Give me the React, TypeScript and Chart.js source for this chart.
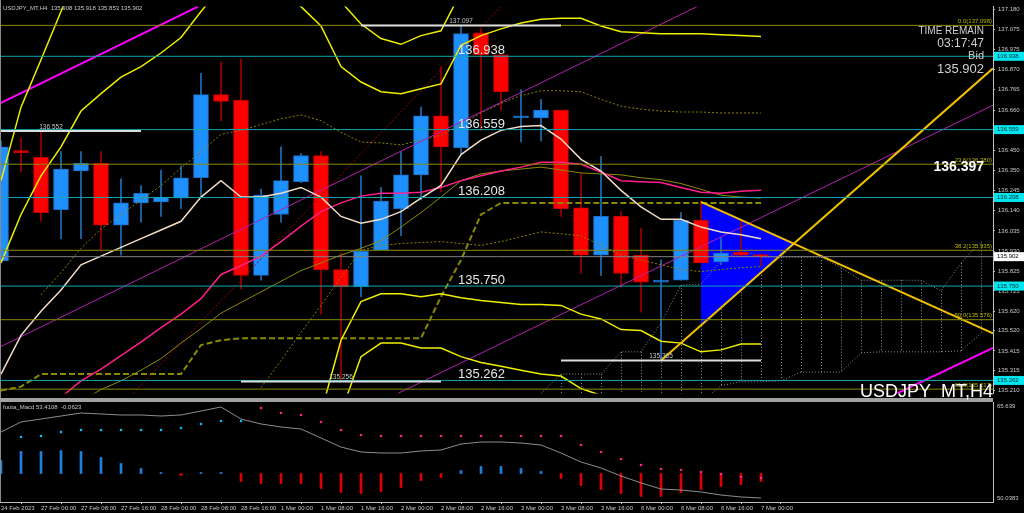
import React, { useEffect, useRef } from "react";
import { Chart, registerables } from "chart.js";
Chart.register(...registerables);

// ---------- candles (H4), index 0 = 24 Feb 2023 16:00 ----------
const opens = [135.880, 136.450, 136.415, 136.145, 136.345, 136.385, 136.065, 136.180, 136.185, 136.205, 136.310, 136.740, 136.710, 135.805, 136.120, 136.290, 136.425, 135.835, 135.745, 135.935, 136.150, 136.325, 136.630, 136.465, 137.060, 136.945, 136.620, 136.620, 136.660, 136.155, 135.910, 136.110, 135.910, 135.770, 135.780, 136.090, 135.875, 135.925, 135.908];
const highs = [136.500, 136.515, 136.550, 136.445, 136.445, 136.445, 136.305, 136.270, 136.350, 136.370, 136.850, 136.910, 136.925, 136.250, 136.470, 136.435, 136.445, 135.920, 136.320, 136.260, 136.445, 136.675, 136.885, 137.097, 137.080, 136.945, 136.765, 136.715, 136.660, 136.330, 136.420, 136.135, 136.050, 135.885, 136.130, 136.185, 136.000, 136.095, 135.918];
const lows = [135.870, 136.340, 136.085, 135.995, 135.995, 135.930, 135.910, 136.080, 136.110, 136.150, 136.210, 136.605, 135.735, 135.780, 136.080, 136.285, 135.605, 135.256, 135.695, 135.935, 136.010, 136.195, 136.235, 136.435, 136.555, 136.660, 136.495, 136.500, 136.110, 135.815, 135.805, 135.745, 135.615, 135.365, 135.780, 135.870, 135.860, 135.905, 135.853];
const closes = [136.470, 136.440, 136.130, 136.355, 136.385, 136.065, 136.180, 136.230, 136.210, 136.310, 136.740, 136.705, 135.805, 136.220, 136.295, 136.425, 135.835, 135.745, 135.930, 136.190, 136.325, 136.630, 136.470, 137.055, 136.945, 136.755, 136.625, 136.660, 136.150, 135.910, 136.110, 135.815, 135.770, 135.780, 136.090, 135.870, 135.920, 135.910, 135.902];

const timeLabels = ["24 Feb 2023", "27 Feb 00:00", "27 Feb 08:00", "27 Feb 16:00", "28 Feb 00:00", "28 Feb 08:00", "28 Feb 16:00", "1 Mar 00:00", "1 Mar 08:00", "1 Mar 16:00", "2 Mar 00:00", "2 Mar 08:00", "2 Mar 16:00", "3 Mar 00:00", "3 Mar 08:00", "3 Mar 16:00", "6 Mar 00:00", "6 Mar 08:00", "6 Mar 16:00", "7 Mar 00:00"];
const priceTicks = [137.180, 137.075, 136.975, 136.870, 136.765, 136.660, 136.555, 136.450, 136.350, 136.245, 136.140, 136.035, 135.930, 135.825, 135.725, 135.620, 135.520, 135.415, 135.315, 135.210];

// ---------- indicator lines (value per candle index, starting at *Start) ----------
const wheatMa = [135.295, 135.495, 135.620, 135.730, 135.860, 135.905, 135.950, 135.995, 136.040, 136.085, 136.210, 136.295, 136.210, 136.210, 136.230, 136.260, 136.210, 136.110, 136.075, 136.095, 136.135, 136.205, 136.270, 136.430, 136.505, 136.555, 136.575, 136.580, 136.510, 136.405, 136.345, 136.245, 136.160, 136.095, 136.095, 136.055, 136.030, 136.015, 135.995];
const pinkMaStart = 3;
const pinkMa = [135.175, 135.260, 135.320, 135.390, 135.460, 135.535, 135.605, 135.685, 135.810, 135.855, 135.905, 135.980, 136.060, 136.135, 136.180, 136.215, 136.230, 136.230, 136.235, 136.260, 136.295, 136.320, 136.345, 136.365, 136.390, 136.390, 136.380, 136.340, 136.295, 136.290, 136.285, 136.260, 136.235, 136.230, 136.240, 136.245];
const oliveMaStart = 4;
const oliveMa = [135.155, 135.215, 135.260, 135.315, 135.375, 135.455, 135.530, 135.610, 135.665, 135.720, 135.775, 135.830, 135.870, 135.910, 135.945, 135.985, 136.055, 136.130, 136.210, 136.295, 136.330, 136.345, 136.355, 136.365, 136.350, 136.335, 136.330, 136.325, 136.310, 136.300, 136.280, 136.250, 136.220, 136.210, 136.205];
const kijun = [135.210, 135.230, 135.295, 135.295, 135.295, 135.295, 135.295, 135.295, 135.295, 135.295, 135.445, 135.470, 135.480, 135.480, 135.480, 135.480, 135.480, 135.480, 135.480, 135.480, 135.480, 135.480, 135.695, 135.885, 136.120, 136.180, 136.180, 136.180, 136.180, 136.180, 136.180, 136.180, 136.180, 136.180, 136.180, 136.180, 136.180, 136.180, 136.180];
const envUpperStart = 2;
const envUpper = [135.705, 135.820, 135.945, 136.045, 136.120, 136.195, 136.270, 136.360, 136.445, 136.535, 136.555, 136.585, 136.615, 136.635, 136.605, 136.545, 136.495, 136.490, 136.480, 136.505, 136.530, 136.585, 136.645, 136.695, 136.735, 136.760, 136.760, 136.755, 136.715, 136.680, 136.665, 136.655, 136.650, 136.650, 136.645, 136.645, 136.645];
const envLowerStart = 13;
const envLower = [135.225, 135.365, 135.510, 135.650, 135.795, 135.935, 135.960, 135.970, 135.975, 135.980, 135.970, 135.960, 135.980, 136.005, 136.030, 136.020, 136.010, 135.960, 135.910, 135.885, 135.860, 135.835, 135.825, 135.835, 135.845, 135.850];
const bandA = [136.295, 136.675, 136.920, 137.170, 137.420];
const bandB = [135.870, 136.120, 136.320, 136.470, 136.655, 136.745, 136.830, 136.885, 136.955, 137.035, 137.170, 137.295];
const bandCStart = 14;
const bandC = [137.295, 137.195, 137.095, 136.885, 136.805, 136.755, 136.745, 136.770, 136.795, 136.995, 137.045, 137.080, 137.110, 137.130, 137.135, 137.135, 137.095, 137.065, 137.060, 137.055, 137.055, 137.055, 137.050, 137.045, 137.040];
const bandDStart = 16;
const bandD = [137.345, 137.220, 137.105, 137.030, 137.000, 137.045, 137.070, 137.270];
const bandEStart = 16;
const bandE = [135.095, 135.470, 135.670, 135.710, 135.710, 135.695, 135.710, 135.690, 135.675, 135.665, 135.655, 135.655, 135.650, 135.605, 135.580, 135.525, 135.520, 135.465, 135.455, 135.410, 135.420, 135.450, 135.450];
const bandFStart = 17;
const bandF = [135.095, 135.385, 135.455, 135.455, 135.430, 135.430, 135.385, 135.355, 135.335, 135.315, 135.295, 135.285, 135.220, 135.185];
const cloudStart = 27;
const cloudA = [135.195, 135.295, 135.295, 135.295, 135.410, 135.410, 135.560, 135.755, 135.760, 135.880, 135.935, 135.900, 135.900, 135.900, 135.900, 135.845, 135.780, 135.780, 135.780, 135.780, 135.725, 135.870, 135.980];
const cloudB = [135.150, 135.150, 135.150, 135.150, 135.150, 135.150, 135.150, 135.150, 135.150, 135.235, 135.255, 135.255, 135.260, 135.305, 135.305, 135.305, 135.405, 135.410, 135.410, 135.410, 135.410, 135.415, 135.505];

// ---------- trend lines / pattern anchors [index, price] ----------
const channelTop = [[-0.05, 136.695], [9.85, 137.195]];
const channelMidA = [[-0.05, 135.435], [34.8, 137.195]];
const channelMidB = [[19.85, 135.195], [49.6, 136.685]];
const channelLow = [[44.8, 135.195], [49.6, 135.430]];
const redDotted = [[6.6, 135.195], [25.0, 137.195]];
const triangleUp = [[33, 135.365], [49.6, 136.876]];
const triangleDown = [[35, 136.185], [49.6, 135.505]];
const triFillTop = [[35, 136.185], [39.64, 135.969]];
const triFillBottom = [[35, 135.547], [39.64, 135.969]];

// ---------- horizontal levels ----------
const srLevels = [136.938, 136.559, 136.208, 135.750, 135.262];
const fibRatios = ["0.0", "23.6", "38.2", "50.0", "61.8"];
const fibPrices = [137.098, 136.380, 135.935, 135.576, 135.217];
const bidPrice = 135.902;
const segPrices = [136.552, 137.097, 135.256, 135.365];
const segFrom = [-2, 18, 12, 28];
const segTo = [7, 28, 22, 38];

// ---------- MACD panel ----------
const macdHist = [0.101, 0.172, 0.172, 0.179, 0.172, 0.125, 0.078, 0.039, 0.008, -0.016, 0.008, 0.008, -0.062, -0.078, -0.078, -0.078, -0.117, -0.148, -0.156, -0.140, -0.109, -0.055, -0.031, 0.023, 0.055, 0.055, 0.039, 0.016, -0.039, -0.094, -0.125, -0.156, -0.179, -0.179, -0.148, -0.125, -0.101, -0.086, -0.062];
const macdSignalStart = 1;
const macdSignal = [0.285, 0.293, 0.324, 0.339, 0.339, 0.339, 0.339, 0.339, 0.355, 0.386, 0.410, 0.410, 0.511, 0.472, 0.456, 0.402, 0.339, 0.300, 0.293, 0.293, 0.293, 0.293, 0.293, 0.293, 0.293, 0.293, 0.293, 0.293, 0.222, 0.168, 0.113, 0.066, 0.035, 0.027, 0.012, -0.004, -0.027, -0.035];
const macdLine = [60.86, 62.46, 62.93, 63.41, 63.89, 63.73, 63.57, 63.57, 63.41, 63.57, 64.21, 64.84, 62.93, 62.14, 61.66, 61.34, 59.91, 58.47, 57.68, 57.52, 57.52, 57.84, 58.00, 58.95, 59.27, 59.27, 59.11, 58.79, 57.52, 56.09, 55.13, 53.86, 52.75, 51.79, 51.63, 51.31, 50.83, 50.52, 50.36];
const macdScale = [65.639, 50.0383];

const X_MIN = -0.05;
const X_MAX = 49.6;
const Y_MIN = 135.195;
const Y_MAX = 137.195;
const FONT = '"Liberation Sans", Arial, sans-serif';

const pts = (vals: number[], start = 0) => vals.map((v, i) => ({ x: start + i, y: v }));
const seg = (a: number[][]) => a.map(([x, y]) => ({ x, y }));
const hline = (v: number, a = X_MIN, b = X_MAX) => [{ x: a, y: v }, { x: b, y: v }];
const line = (data: any[], color: string, width: number, dash: number[] = [], order = 10) => ({
  type: "line",
  data,
  borderColor: color,
  borderWidth: width,
  borderDash: dash,
  pointRadius: 0,
  pointHoverRadius: 0,
  fill: false,
  tension: 0,
  order,
  xAxisID: "x",
  yAxisID: "y",
});

const isBull = (i: number) => closes[i] >= opens[i];

const mainOverlay = {
  id: "mainOverlay",
  beforeDatasetsDraw(chart: any) {
    const { ctx, chartArea: a, scales } = chart;
    const x = scales.x, y = scales.y;
    ctx.save();
    ctx.beginPath();
    ctx.rect(a.left, a.top, a.right - a.left, a.bottom - a.top);
    ctx.clip();
    ctx.strokeStyle = "#8c8c8c";
    ctx.lineWidth = 1;
    ctx.setLineDash([1, 2]);
    cloudA.forEach((va, i) => {
      if (i === 0) return;
      const px = Math.round(x.getPixelForValue(cloudStart + i)) + 0.5;
      ctx.beginPath();
      ctx.moveTo(px, y.getPixelForValue(va));
      ctx.lineTo(px, y.getPixelForValue(cloudB[i]));
      ctx.stroke();
    });
    ctx.restore();
  },
  afterDraw(chart: any) {
    const { ctx, chartArea: a, scales } = chart;
    const x = scales.x, y = scales.y;
    ctx.save();
    // left frame + panel separator
    ctx.fillStyle = "#8a8a8a";
    ctx.fillRect(0, 0, 1, 400);
    ctx.fillStyle = "#a0a0a0";
    ctx.fillRect(0, 398, a.right, 2);

    ctx.textBaseline = "middle";
    ctx.textAlign = "left";
    ctx.fillStyle = "#c8c8c8";
    ctx.font = `6px ${FONT}`;
    ctx.fillText("USDJPY_MT,H4  135.908 135.918 135.853 135.902", 3, 8);

    // S/R level texts
    ctx.font = `13px ${FONT}`;
    ctx.fillStyle = "#e6e6e6";
    ctx.textBaseline = "alphabetic";
    srLevels.forEach((v) => {
      ctx.fillText(v.toFixed(3), 458, y.getPixelForValue(v) - 2);
    });

    // short segment labels
    ctx.font = `6.5px ${FONT}`;
    ctx.fillStyle = "#c8c8c8";
    ctx.textAlign = "center";
    ctx.textBaseline = "bottom";
    segPrices.forEach((v, i) => {
      const cx = x.getPixelForValue((segFrom[i] + segTo[i]) / 2);
      ctx.fillText(v.toFixed(3), cx, y.getPixelForValue(v) - 1);
    });

    // fibo labels
    ctx.font = `6px ${FONT}`;
    ctx.fillStyle = "#b8b800";
    ctx.textAlign = "right";
    fibPrices.forEach((v, i) => {
      ctx.fillText(`${fibRatios[i]}(${v.toFixed(3)})`, a.right - 1, y.getPixelForValue(v) - 1);
    });

    // info block
    ctx.fillStyle = "#cfcfcf";
    ctx.textBaseline = "middle";
    ctx.font = `10px ${FONT}`;
    ctx.fillText("TIME REMAIN", 984, 31);
    ctx.font = `12px ${FONT}`;
    ctx.fillText("03:17:47", 984, 44);
    ctx.font = `11px ${FONT}`;
    ctx.fillText("Bid", 984, 56);
    ctx.font = `13px ${FONT}`;
    ctx.fillText(bidPrice.toFixed(3), 984, 69);
    ctx.fillStyle = "#ffffff";
    ctx.font = `bold 14px ${FONT}`;
    ctx.fillText("136.397", 984, 167);

    ctx.font = `18px ${FONT}`;
    ctx.textBaseline = "alphabetic";
    ctx.fillText("USDJPY_MT,H4", a.right, 397);

    // axis price boxes
    ctx.font = `6px ${FONT}`;
    ctx.textAlign = "left";
    ctx.textBaseline = "middle";
    srLevels.forEach((v) => {
      const py = y.getPixelForValue(v);
      ctx.fillStyle = "#00e6f0";
      ctx.fillRect(a.right + 1, py - 4.5, 30, 9);
      ctx.fillStyle = "#003030";
      ctx.fillText(v.toFixed(3), a.right + 4, py);
    });
    const by = y.getPixelForValue(bidPrice);
    ctx.fillStyle = "#ffffff";
    ctx.fillRect(a.right + 1, by - 4.5, 30, 9);
    ctx.fillStyle = "#000000";
    ctx.fillText(bidPrice.toFixed(3), a.right + 4, by);
    ctx.restore();
  },
};

const subOverlay = {
  id: "subOverlay",
  afterDraw(chart: any) {
    const { ctx, chartArea: a, scales } = chart;
    const y = scales.y;
    ctx.save();
    ctx.fillStyle = "#8a8a8a";
    ctx.fillRect(0, 0, 1, a.bottom);
    ctx.fillStyle = "#a0a0a0";
    ctx.fillRect(0, 0, a.right, 2);
    ctx.font = `6px ${FONT}`;
    ctx.fillStyle = "#c8c8c8";
    ctx.textBaseline = "middle";
    ctx.textAlign = "left";
    ctx.fillText("fuuta_Macd 53.4108  -0.0623", 3, 7);
    ctx.fillText(String(macdScale[0]), a.right + 4, y.getPixelForValue(macdScale[0]) + 4);
    ctx.fillText(String(macdScale[1]), a.right + 4, y.getPixelForValue(macdScale[1]) - 2);
    ctx.restore();
  },
};

function mainConfig(): any {
  const bodies = opens.map((o, i) => ({ x: i, y: [o, closes[i]] }));
  const wicks = lows.map((l, i) => ({ x: i, y: [l, highs[i]] }));
  const datasets: any[] = [
    { ...line(seg(triFillTop), "rgba(0,0,0,0)", 0, [], 300), fill: "+1", backgroundColor: "#0000ff" },
    { ...line(seg(triFillBottom), "rgba(0,0,0,0)", 0, [], 300) },
    line(pts(cloudA, cloudStart), "#8c8c8c", 1, [1, 2], 250),
    line(pts(cloudB, cloudStart), "#8c8c8c", 1, [1, 2], 250),
    {
      type: "bar",
      data: wicks,
      backgroundColor: wicks.map((_, i) => (isBull(i) ? "#1f70b8" : "#a00000")),
      barThickness: 1,
      grouped: false,
      order: 200,
      xAxisID: "x",
      yAxisID: "y",
    },
    {
      type: "bar",
      data: bodies,
      backgroundColor: bodies.map((_, i) => (isBull(i) ? "#1e90ff" : "#ff0000")),
      borderColor: bodies.map((_, i) => (isBull(i) ? "#1b6cc4" : "#c40000")),
      borderWidth: 1,
      borderSkipped: false,
      barThickness: 15,
      minBarLength: 2,
      grouped: false,
      order: 190,
      xAxisID: "x",
      yAxisID: "y",
    },
    line(pts(envUpper, envUpperStart), "#8a8000", 1, [2, 2], 20),
    line(pts(envLower, envLowerStart), "#8a8000", 1, [2, 2], 20),
    line(pts(kijun), "#8a8a00", 2, [6, 3], 20),
    line(pts(oliveMa, oliveMaStart), "#8a8a00", 1, [], 20),
    line(seg(redDotted), "#a00000", 1, [2, 2], 20),
    line(seg(channelMidA), "#b020b0", 1, [], 18),
    line(seg(channelMidB), "#b020b0", 1, [], 18),
    line(seg(channelTop), "#ff00ff", 2, [], 18),
    line(seg(channelLow), "#ff00ff", 2, [], 18),
    line(pts(bandA), "#eeee00", 1.5, [], 15),
    line(pts(bandB), "#eeee00", 1.5, [], 15),
    line(pts(bandC, bandCStart), "#eeee00", 1.5, [], 15),
    line(pts(bandD, bandDStart), "#eeee00", 1.5, [], 15),
    line(pts(bandE, bandEStart), "#eeee00", 1.5, [], 15),
    line(pts(bandF, bandFStart), "#eeee00", 1.5, [], 15),
    line(pts(pinkMa, pinkMaStart), "#ff1e8c", 1.5, [], 12),
    line(pts(wheatMa), "#f2dcc4", 1.5, [], 11),
    line(seg(triangleUp), "#f0c000", 2, [], 8),
    line(seg(triangleDown), "#f0c000", 2, [], 8),
  ];
  srLevels.forEach((v) => datasets.push(line(hline(v), "#12a6ad", 1, [], 6)));
  fibPrices.forEach((v) => datasets.push(line(hline(v), "#8a8a00", 1, [], 6)));
  datasets.push(line(hline(bidPrice), "#808080", 1, [], 6));
  segPrices.forEach((v, i) => datasets.push(line(hline(v, segFrom[i], segTo[i]), "#dcdcdc", 2, [], 5)));

  return {
    type: "bar",
    data: { datasets },
    options: {
      animation: false,
      responsive: false,
      devicePixelRatio: 1,
      events: [],
      layout: { padding: 0, autoPadding: false },
      plugins: { legend: { display: false }, tooltip: { enabled: false } },
      scales: {
        x: { type: "linear", min: X_MIN, max: X_MAX, display: false, offset: false },
        y: {
          type: "linear",
          position: "right",
          min: Y_MIN,
          max: Y_MAX,
          afterFit: (s: any) => { s.width = 31; },
          afterBuildTicks: (s: any) => { s.ticks = priceTicks.map((v) => ({ value: v })); },
          ticks: {
            autoSkip: false,
            callback: (v: any) => Number(v).toFixed(3),
            color: "#c8c8c8",
            font: { size: 6, family: FONT },
            padding: 3,
          },
          grid: { display: true, drawOnChartArea: false, drawTicks: true, tickLength: 2, color: "#c0c0c0" },
          border: { display: true, color: "#c0c0c0" },
        },
      },
    },
    plugins: [mainOverlay],
  };
}

function subConfig(): any {
  return {
    type: "bar",
    data: {
      datasets: [
        {
          type: "bar",
          data: pts(macdHist),
          backgroundColor: macdHist.map((v) => (v >= 0 ? "#1e80dc" : "#e00000")),
          barThickness: 2,
          grouped: false,
          order: 5,
          xAxisID: "x",
          yAxisID: "yh",
        },
        {
          type: "line",
          data: pts(macdSignal, macdSignalStart),
          showLine: false,
          pointRadius: 1.3,
          pointBorderWidth: 0,
          pointBackgroundColor: (c: any) => (c.dataIndex + macdSignalStart <= 12 ? "#00c0ff" : "#ff2090"),
          order: 1,
          xAxisID: "x",
          yAxisID: "yh",
        },
        {
          type: "line",
          data: pts(macdLine),
          borderColor: "#8c8c8c",
          borderWidth: 1,
          pointRadius: 0,
          tension: 0,
          order: 2,
          xAxisID: "x",
          yAxisID: "y",
        },
      ],
    },
    options: {
      animation: false,
      responsive: false,
      devicePixelRatio: 1,
      events: [],
      layout: { padding: { top: 2, left: 0, right: 0, bottom: 0 }, autoPadding: false },
      plugins: { legend: { display: false }, tooltip: { enabled: false } },
      scales: {
        x: {
          type: "linear",
          position: "bottom",
          min: X_MIN,
          max: X_MAX,
          offset: false,
          afterFit: (s: any) => { s.height = 11; },
          afterBuildTicks: (s: any) => { s.ticks = timeLabels.map((_, i) => ({ value: i * 2 })); },
          ticks: {
            autoSkip: false,
            maxRotation: 0,
            minRotation: 0,
            align: "start",
            padding: 1,
            callback: (_v: any, i: number) => timeLabels[i],
            color: "#c8c8c8",
            font: { size: 6, family: FONT },
          },
          grid: { display: true, drawOnChartArea: false, drawTicks: true, tickLength: 2, color: "#c0c0c0" },
          border: { display: true, color: "#c0c0c0", dash: [2, 2] },
        },
        y: {
          type: "linear",
          position: "right",
          min: 49.72,
          max: 65.639,
          afterFit: (s: any) => { s.width = 31; },
          ticks: { display: false },
          grid: { display: false },
          border: { display: true, color: "#c0c0c0" },
        },
        yh: { type: "linear", display: false, min: -0.2223, max: 0.5577 },
      },
    },
    plugins: [subOverlay],
  };
}

export default function App() {
  const mainRef = useRef<HTMLCanvasElement>(null);
  const subRef = useRef<HTMLCanvasElement>(null);
  useEffect(() => {
    const c1 = new Chart(mainRef.current as HTMLCanvasElement, mainConfig());
    const c2 = new Chart(subRef.current as HTMLCanvasElement, subConfig());
    return () => {
      c1.destroy();
      c2.destroy();
    };
  }, []);
  return (
    <div style={{ position: "fixed", left: 0, top: 0, width: 1024, height: 513, background: "#000", overflow: "hidden" }}>
      <canvas ref={mainRef} width={1024} height={400} style={{ position: "absolute", left: 0, top: 0, width: 1024, height: 400 }} />
      <canvas ref={subRef} width={1024} height={113} style={{ position: "absolute", left: 0, top: 400, width: 1024, height: 113 }} />
    </div>
  );
}
